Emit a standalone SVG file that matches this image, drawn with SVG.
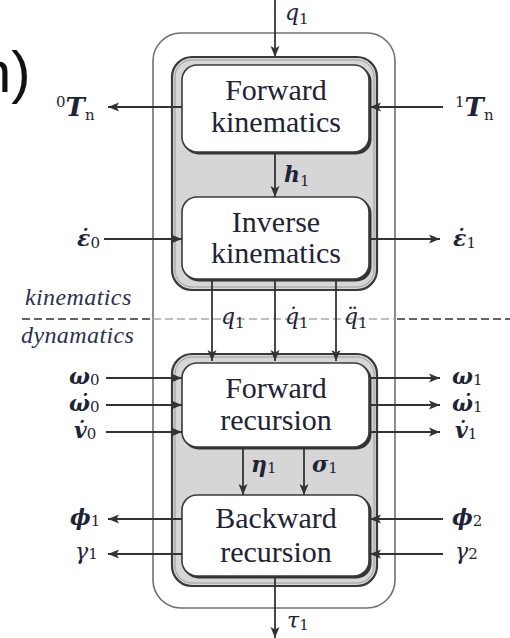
<svg xmlns="http://www.w3.org/2000/svg" width="510" height="638" viewBox="0 0 510 638">
<style>
.outer{fill:#fff;stroke:#707070;stroke-width:1.6}
.panel{fill:#d6d6d6;stroke:#3a3a3a;stroke-width:2.2}
.panelin{fill:none;stroke:#9a9a9a;stroke-width:1}
.shadow{fill:#333}
.box{fill:#fff;stroke:#3a3a3a;stroke-width:1.6}
.bt{font-size:30px;fill:#1e2436;text-anchor:middle}
.m{font-style:italic;font-size:22px;fill:#1e2436}
.b{font-weight:bold}
.s{font-style:normal;font-weight:normal;font-size:15px}
.w{font-style:italic;font-size:24px;letter-spacing:0.4px;fill:#2a3050}
.c{stroke:#333;stroke-width:1.8;fill:none}
.a{marker-end:url(#ah)}
.dd{stroke:#333;stroke-width:1.5;stroke-dasharray:8 4;fill:none}
.dl{stroke:#aaa;stroke-width:1.5;stroke-dasharray:8 4;fill:none}
</style>
<defs>
<marker id="ah" markerUnits="userSpaceOnUse" markerWidth="12" markerHeight="10" refX="11" refY="5" orient="auto">
<path d="M0,0.5 L11,5 L0,9.5 L2.5,5 Z" fill="#333"/>
</marker>
</defs>

<text x="-21" y="92" style="font-family:'Liberation Sans',sans-serif" font-size="58" fill="#111">n)</text>

<g id="outer"><rect class="outer" x="153" y="33" width="242" height="575" rx="28"/></g>

<g id="upper-panel">
<rect class="panel" x="172" y="57" width="205" height="233" rx="20"/>
<rect class="panelin" x="175" y="60" width="199" height="227" rx="17"/>
</g>
<g id="lower-panel">
<rect class="panel" x="172" y="354" width="205" height="232" rx="20"/>
<rect class="panelin" x="175" y="357" width="199" height="226" rx="17"/>
</g>

<g id="forward-kinematics">
<rect class="shadow" x="183.5" y="66.5" width="188" height="88" rx="15"/>
<rect class="box" x="182" y="65" width="187" height="87" rx="15"/>
<text class="bt" x="276" y="100" style="font-family:'Liberation Serif',serif">Forward</text>
<text class="bt" x="276" y="132" style="font-family:'Liberation Serif',serif">kinematics</text>
</g>
<g id="inverse-kinematics">
<rect class="shadow" x="183.5" y="198.5" width="188" height="83" rx="15"/>
<rect class="box" x="182" y="197" width="187" height="82" rx="15"/>
<text class="bt" x="276" y="232" style="font-family:'Liberation Serif',serif">Inverse</text>
<text class="bt" x="276" y="263" style="font-family:'Liberation Serif',serif">kinematics</text>
</g>
<g id="forward-recursion">
<rect class="shadow" x="183.5" y="364.5" width="188" height="85" rx="15"/>
<rect class="box" x="182" y="363" width="187" height="84" rx="15"/>
<text class="bt" x="276" y="398" style="font-family:'Liberation Serif',serif">Forward</text>
<text class="bt" x="276" y="430" style="font-family:'Liberation Serif',serif">recursion</text>
</g>
<g id="backward-recursion">
<rect class="shadow" x="183.5" y="496.5" width="188" height="82" rx="15"/>
<rect class="box" x="182" y="495" width="187" height="81" rx="15"/>
<text class="bt" x="276" y="528" style="font-family:'Liberation Serif',serif">Backward</text>
<text class="bt" x="276" y="562" style="font-family:'Liberation Serif',serif">recursion</text>
</g>

<g id="separator">
<line class="dd" x1="22" y1="319" x2="153" y2="319"/>
<line class="dl" x1="153" y1="319" x2="395" y2="319"/>
<line class="dd" x1="397" y1="319" x2="510" y2="319"/>
<text class="w" x="25" y="305" style="font-family:'Liberation Serif',serif">kinematics</text>
<text class="w" x="21" y="343" style="font-family:'Liberation Serif',serif">dynamatics</text>
</g>

<g id="connectors">
<line class="c a" x1="275" y1="0" x2="275" y2="57"/>
<line class="c a" x1="275" y1="153" x2="275" y2="197"/>
<line class="c a" x1="182" y1="107" x2="108" y2="107"/>
<line class="c a" x1="443" y1="107" x2="370" y2="107"/>
<line class="c a" x1="104" y1="239" x2="182" y2="239"/>
<line class="c a" x1="370" y1="239" x2="440" y2="239"/>
<line class="c a" x1="212" y1="280" x2="212" y2="361"/>
<line class="c a" x1="275" y1="280" x2="275" y2="361"/>
<line class="c a" x1="336" y1="280" x2="336" y2="361"/>
<line class="c a" x1="106" y1="378" x2="182" y2="378"/>
<line class="c a" x1="106" y1="405" x2="182" y2="405"/>
<line class="c a" x1="106" y1="432" x2="182" y2="432"/>
<line class="c a" x1="370" y1="378" x2="440" y2="378"/>
<line class="c a" x1="370" y1="405" x2="440" y2="405"/>
<line class="c a" x1="370" y1="432" x2="440" y2="432"/>
<line class="c a" x1="243" y1="448" x2="243" y2="495"/>
<line class="c a" x1="304" y1="448" x2="304" y2="495"/>
<line class="c a" x1="182" y1="519" x2="108" y2="519"/>
<line class="c a" x1="182" y1="554" x2="108" y2="554"/>
<line class="c a" x1="443" y1="519" x2="370" y2="519"/>
<line class="c a" x1="443" y1="554" x2="370" y2="554"/>
<line class="c a" x1="275" y1="577" x2="275" y2="638"/>
</g>

<g id="labels">
<text class="m" x="285" y="20" style="font-family:'DejaVu Serif',serif">q<tspan class="s" dy="4">1</tspan></text>
<text class="m b" x="284" y="182" style="font-family:'DejaVu Serif',serif">h<tspan class="s" dy="4">1</tspan></text>
<text class="m" x="56" y="116" style="font-family:'DejaVu Serif',serif"><tspan class="s" font-size="16" dy="-9">0</tspan><tspan class="b" font-size="26" dy="9">T</tspan><tspan class="s b" font-style="italic" font-size="16" dy="4">n</tspan></text>
<text class="m" x="455" y="116" style="font-family:'DejaVu Serif',serif"><tspan class="s" font-size="16" dy="-9">1</tspan><tspan class="b" font-size="26" dy="9">T</tspan><tspan class="s b" font-style="italic" font-size="16" dy="4">n</tspan></text>
<text class="m b" x="77" y="246" style="font-family:'DejaVu Serif',serif">ε̇<tspan class="s" dy="2">0</tspan></text>
<text class="m b" x="453" y="246" style="font-family:'DejaVu Serif',serif">ε̇<tspan class="s" dy="2">1</tspan></text>
<text class="m" x="221" y="324" style="font-family:'DejaVu Serif',serif">q<tspan class="s" dy="4">1</tspan></text>
<text class="m" x="285" y="324" style="font-family:'DejaVu Serif',serif">q̇<tspan class="s" dy="4">1</tspan></text>
<text class="m" x="344" y="324" style="font-family:'DejaVu Serif',serif">q̈<tspan class="s" dy="4">1</tspan></text>
<text class="m b" x="69" y="384" style="font-family:'DejaVu Serif',serif">ω<tspan class="s" dy="1">0</tspan></text>
<text class="m b" x="69" y="411" style="font-family:'DejaVu Serif',serif">ω̇<tspan class="s" dy="1">0</tspan></text>
<text class="m b" x="74" y="438" style="font-family:'DejaVu Serif',serif">v̇<tspan class="s" dy="1">0</tspan></text>
<text class="m b" x="452" y="384" style="font-family:'DejaVu Serif',serif">ω<tspan class="s" dy="1">1</tspan></text>
<text class="m b" x="452" y="411" style="font-family:'DejaVu Serif',serif">ω̇<tspan class="s" dy="1">1</tspan></text>
<text class="m b" x="455" y="438" style="font-family:'DejaVu Serif',serif">v̇<tspan class="s" dy="1">1</tspan></text>
<text class="m b" x="251" y="472" style="font-family:'DejaVu Serif',serif">η<tspan class="s" dy="1">1</tspan></text>
<text class="m b" x="312" y="472" style="font-family:'DejaVu Serif',serif">σ<tspan class="s" dy="1">1</tspan></text>
<text class="m b" x="70" y="525" style="font-family:'DejaVu Serif',serif">ϕ<tspan class="s" dy="1">1</tspan></text>
<text class="m" x="75" y="559" style="font-family:'DejaVu Serif',serif">γ<tspan class="s">1</tspan></text>
<text class="m b" x="452" y="525" style="font-family:'DejaVu Serif',serif">ϕ<tspan class="s" dy="1">2</tspan></text>
<text class="m" x="455" y="559" style="font-family:'DejaVu Serif',serif">γ<tspan class="s">2</tspan></text>
<text class="m" x="287" y="628" style="font-family:'DejaVu Serif',serif">τ<tspan class="s" dy="2">1</tspan></text>
</g>
</svg>
